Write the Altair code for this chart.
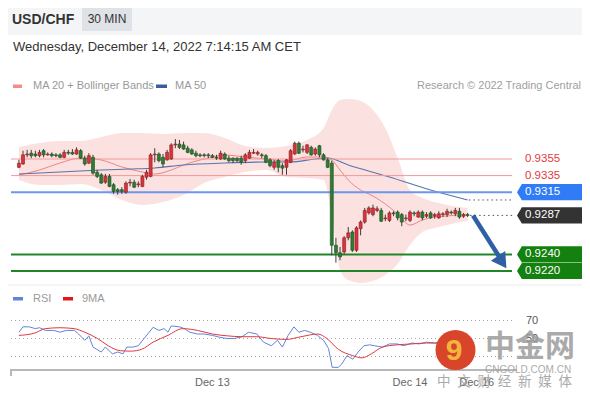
import altair as alt
import pandas as pd

FONT = "Liberation Sans"
CJK = "Noto Sans CJK SC"

# ---------------- data ----------------
candle_open = [0.9345,0.9349,0.9360,0.9362,0.9361,0.9359,0.9365,0.9360,0.9361,0.9360,
               0.9360,0.9357,0.9363,0.9363,0.9361,0.9365,0.9356,0.9350,0.9357,0.9339,
               0.9336,0.9327,0.9334,0.9324,0.9318,0.9318,0.9315,0.9326,0.9327,0.9324,
               0.9322,0.9333,0.9334,0.9360,0.9361,0.9357,0.9354,0.9355,0.9372,0.9373,
               0.9372,0.9368,0.9366,0.9362,0.9360,0.9360,0.9360,0.9359,0.9357,0.9355,
               0.9361,0.9356,0.9356,0.9356,0.9356,0.9353,0.9356,0.9362,0.9361,0.9360,
               0.9359,0.9354,0.9345,0.9353,0.9347,0.9345,0.9351,0.9361,0.9374,0.9366,
               0.9363,0.9369,0.9361,0.9371,0.9360,0.9354,0.9350,0.9251,0.9242,0.9243,
               0.9260,0.9267,0.9245,0.9271,0.9279,0.9290,0.9288,0.9293,0.9293,0.9283,
               0.9281,0.9290,0.9291,0.9288,0.9283,0.9281,0.9290,0.9285,0.9291,0.9286,
               0.9290,0.9286,0.9284,0.9288,0.9288,0.9291,0.9289,0.9292,0.9286,0.9288]
candle_close = [0.9350,0.9360,0.9361,0.9359,0.9359,0.9363,0.9360,0.9361,0.9359,0.9359,
                0.9357,0.9363,0.9362,0.9361,0.9366,0.9356,0.9349,0.9359,0.9338,0.9334,
                0.9326,0.9334,0.9322,0.9316,0.9316,0.9316,0.9326,0.9327,0.9321,0.9325,
                0.9334,0.9339,0.9360,0.9361,0.9353,0.9349,0.9363,0.9372,0.9373,0.9369,
                0.9367,0.9363,0.9361,0.9359,0.9359,0.9359,0.9359,0.9357,0.9356,0.9362,
                0.9355,0.9353,0.9353,0.9353,0.9351,0.9360,0.9363,0.9363,0.9363,0.9359,
                0.9351,0.9347,0.9351,0.9345,0.9344,0.9354,0.9365,0.9374,0.9362,0.9367,
                0.9372,0.9360,0.9367,0.9360,0.9354,0.9345,0.9251,0.9242,0.9237,0.9260,
                0.9266,0.9245,0.9272,0.9279,0.9293,0.9296,0.9296,0.9295,0.9280,0.9284,
                0.9290,0.9289,0.9284,0.9279,0.9284,0.9291,0.9289,0.9291,0.9284,0.9288,
                0.9284,0.9288,0.9289,0.9289,0.9292,0.9290,0.9293,0.9285,0.9288,0.9287]
candle_high = [0.9354,0.9365,0.9366,0.9366,0.9365,0.9366,0.9367,0.9363,0.9363,0.9362,
               0.9362,0.9366,0.9366,0.9367,0.9369,0.9367,0.9359,0.9362,0.9360,0.9342,
               0.9338,0.9337,0.9337,0.9326,0.9320,0.9321,0.9328,0.9331,0.9330,0.9328,
               0.9336,0.9342,0.9362,0.9368,0.9363,0.9361,0.9366,0.9374,0.9379,0.9378,
               0.9376,0.9371,0.9368,0.9365,0.9362,0.9362,0.9362,0.9361,0.9360,0.9365,
               0.9363,0.9359,0.9357,0.9357,0.9359,0.9362,0.9366,0.9367,0.9365,0.9362,
               0.9361,0.9356,0.9354,0.9355,0.9350,0.9355,0.9367,0.9376,0.9376,0.9371,
               0.9373,0.9371,0.9369,0.9372,0.9362,0.9356,0.9353,0.9260,0.9249,0.9262,
               0.9273,0.9269,0.9274,0.9281,0.9296,0.9298,0.9300,0.9298,0.9296,0.9288,
               0.9292,0.9292,0.9293,0.9290,0.9288,0.9293,0.9292,0.9293,0.9293,0.9291,
               0.9292,0.9290,0.9292,0.9291,0.9295,0.9293,0.9296,0.9296,0.9290,0.9290]
candle_low = [0.9344,0.9348,0.9357,0.9356,0.9357,0.9357,0.9357,0.9359,0.9357,0.9357,
              0.9356,0.9356,0.9360,0.9360,0.9360,0.9355,0.9347,0.9349,0.9336,0.9332,
              0.9325,0.9325,0.9321,0.9313,0.9312,0.9313,0.9313,0.9322,0.9320,0.9321,
              0.9321,0.9330,0.9333,0.9351,0.9351,0.9345,0.9353,0.9354,0.9368,0.9367,
              0.9366,0.9362,0.9360,0.9357,0.9357,0.9357,0.9356,0.9356,0.9354,0.9354,
              0.9354,0.9351,0.9350,0.9351,0.9348,0.9350,0.9355,0.9361,0.9359,0.9356,
              0.9350,0.9345,0.9342,0.9339,0.9336,0.9336,0.9350,0.9360,0.9361,0.9363,
              0.9361,0.9359,0.9359,0.9357,0.9353,0.9344,0.9239,0.9230,0.9233,0.9240,
              0.9257,0.9243,0.9243,0.9263,0.9277,0.9288,0.9286,0.9291,0.9279,0.9280,
              0.9279,0.9286,0.9281,0.9274,0.9280,0.9279,0.9286,0.9284,0.9281,0.9284,
              0.9283,0.9283,0.9283,0.9285,0.9285,0.9288,0.9286,0.9283,0.9284,0.9285]

band_idx = [0,5,10,15,20,25,30,35,40,45,50,55,60,65,70,74,76,78,80,83,86,89,92,95,98,101,104,107,109]
band_upper = [0.93695,0.93743,0.93767,0.93767,0.93815,0.93863,0.93863,0.93851,0.93863,0.93863,
              0.93803,0.93707,0.93683,0.93707,0.93779,0.93924,0.94141,0.94261,0.94273,0.94249,
              0.94141,0.93924,0.93562,0.93176,0.93080,0.93032,0.92996,0.92971,0.92959]
band_lower = [0.93297,0.93237,0.93237,0.93249,0.93176,0.93056,0.92996,0.93032,0.93116,0.93261,
              0.93333,0.93393,0.93417,0.93333,0.93321,0.93297,0.92875,0.92212,0.92091,0.92055,
              0.92079,0.92151,0.92284,0.92513,0.92670,0.92718,0.92754,0.92791,0.92803]

ma20_idx = [0,5,10,15,20,25,30,33,37,40,45,50,55,60,65,70,74,76,78,80,83,86,89,92,95,98,101,104,107,109]
ma20_val = [0.93357,0.93417,0.93502,0.93562,0.93538,0.93454,0.93393,0.93369,0.93417,0.93478,
            0.93550,0.93598,0.93574,0.93550,0.93526,0.93574,0.93574,0.93538,0.93417,0.93297,
            0.93176,0.93104,0.93008,0.92887,0.92754,0.92815,0.92851,0.92863,0.92875,0.92875]

ma50_idx = [0,10,20,27,33,40,50,60,66,72,75,80,90,100,109]
ma50_val = [0.93369,0.93393,0.93417,0.93429,0.93442,0.93478,0.93502,0.93514,0.93514,0.93550,
            0.93562,0.93478,0.93333,0.93176,0.93056]

levels = [0.9355, 0.9335, 0.9315, 0.9287, 0.9240, 0.9220]
level_labels = ["0.9355", "0.9335", "0.9315", "0.9287", "0.9240", "0.9220"]
level_kind = ["resistance", "resistance", "pivot", "last", "support", "support"]

arrow_idx = [110.3, 116.7]
arrow_val = [0.92868, 0.92369]
arrow_head_idx = [117.4]
arrow_head_val = [0.92308]

rsi_idx = [0,1,2.5,4,5,6.5,8.5,10,11.5,13.5,14.5,16,17,18,20,21,22.7,24,25.3,26.2,27.7,29,30.3,31.3,
           32.6,34,35.3,36.2,37,39,40.2,41.5,43.4,45,47,48.7,50.6,52.3,54.2,55.8,57.8,59.4,61.3,62.8,
           64,65.4,66.8,68,69.4,70.8,72.5,74,75.2,76.1,77.6,78.4,79.7,81.1,82.4,83.8,85.2,86.4,88.3,
           90,91.9,93.5,95.5,97.2,99,101,103,105,107,109]
rsi_val = [57,63,63,61,62,59,59,57,59,59,55,48,53,40.5,35,40.5,33,35,33,40.5,40.5,42,49.5,55,
           62.5,59,61,57,64,63,61,57,55,55,53.5,51.5,50,50,52,57,55,46,42,48,
           40.5,53.5,63,57,59,57,53.5,48,39,18,18,21.5,31,27,35,42,43,42,40.5,
           44,44,42,45,44,46,45,45.5,46,45,45]

ma9_idx = [0,3.8,6.4,10,13.4,16,19.1,21.7,24.6,27.2,29.8,32.6,36.2,39.8,43.4,47,50.6,54.2,57.8,
           61.3,64.9,68.5,72.6,74.8,77.6,81.1,83.3,85.6,88.3,91.9,95.5,99,109]
ma9_val = [53.5,56,61,62,61,57,50,42,36.5,36,38,46,53.5,61,59,55,53,52,52,
           50,49,52,55,50,38,31,28.5,33,40.5,43,44,45,45]

rsi_levels = [70, 50, 30]
rsi_level_labels = ["70", "50", ""]

date_ticks = [47, 95, 111.2]
date_labels = ["Dec 13", "Dec 14", "Dec 16"]

# ---------------- tables ----------------
cdf = pd.DataFrame({"i": list(range(len(candle_open))), "open": candle_open,
                    "close": candle_close, "high": candle_high, "low": candle_low})
cdf["fill"] = ["#d8343c" if c >= o else "#2e7d32" for o, c in zip(candle_open, candle_close)]
cdf["edge"] = ["#8e1c20" if c >= o else "#1b4d1e" for o, c in zip(candle_open, candle_close)]
bdf = pd.DataFrame({"i": band_idx, "upper": band_upper, "lower": band_lower})
m20 = pd.DataFrame({"i": ma20_idx, "v": ma20_val})
m50 = pd.DataFrame({"i": ma50_idx, "v": ma50_val})
ldf = pd.DataFrame({"level": levels, "label": level_labels, "kind": level_kind})
ldf["tcolor"] = ["#e23b3b" if k == "resistance" else "#ffffff" for k in level_kind]
box_colors = {"pivot": "#2f7cf6", "last": "#333333", "support": "#14800f", "resistance": "#ffffff"}
ldf["bcolor"] = [box_colors[k] for k in level_kind]
adf = pd.DataFrame({"i": arrow_idx, "v": arrow_val})
hdf = pd.DataFrame({"i": arrow_head_idx, "v": arrow_head_val})
dotdf = pd.DataFrame({"i": [len(candle_open) - 0.4, ma50_idx[-1] + 0.3],
                      "v": [candle_close[-1], ma50_val[-1]]})
rdf = pd.DataFrame({"i": rsi_idx, "v": rsi_val})
m9 = pd.DataFrame({"i": ma9_idx, "v": ma9_val})
rl = pd.DataFrame({"v": rsi_levels, "t": rsi_level_labels})
tdf = pd.DataFrame({"i": date_ticks, "label": date_labels})
one = pd.DataFrame({"k": [0]})

W, H = 574, 384
xs = alt.Scale(domain=[-1.432, 135.56], nice=False, zero=False)
ps = alt.Scale(domain=[0.907414, 0.953702], nice=False, zero=False)
rs = alt.Scale(domain=[-9.4, 417.2], nice=False, zero=False)


def X(f):
    return alt.X(f, type="quantitative", scale=xs, axis=None)


def P(f):
    return alt.Y(f, type="quantitative", scale=ps, axis=None)


def R(f):
    return alt.Y(f, type="quantitative", scale=rs, axis=None)


def rect(x, x2, y, y2, color):
    return alt.Chart(one).mark_rect(color=color).encode(
        x=alt.value(x), x2=alt.value(x2), y=alt.value(y), y2=alt.value(y2))


def text(s, x, y, size=11, color="#999", align="left", weight="normal", font=FONT, opacity=1.0):
    return alt.Chart(one).mark_text(text=s, align=align, baseline="middle", fontSize=size,
                                    color=color, fontWeight=weight, font=font,
                                    opacity=opacity).encode(x=alt.value(x), y=alt.value(y))


# ---------------- header ----------------
header = [
    rect(0, W, 0, 27, "#f4f5f6"),
    rect(74, 124, 0, 23, "#dfe2e6"),
    text("USD/CHF", 4, 12, 14, "#333333", weight="bold"),
    text("30 MIN", 99, 11, 12, "#333333", align="center"),
    text("Wednesday, December 14, 2022 7:14:15 AM CET", 5, 39, 13, "#333333"),
    rect(5, 14, 76.5, 80, "#f38d8d"),
    text("MA 20 + Bollinger Bands", 25, 78, 11, "#999999"),
    rect(148, 159, 76.5, 80, "#3c5c9c"),
    text("MA 50", 167, 78, 11, "#999999"),
    text("Research \u00a9 2022 Trading Central", 573, 78, 11, "#a0a0a0", align="right"),
    rect(0, W, 276.5, 277.5, "#ececec"),
]

# ---------------- price panel ----------------
band = alt.Chart(bdf).mark_area(color="#fcdcdc", opacity=0.85, interpolate="monotone").encode(
    x=X("i"), y=P("upper"), y2=alt.Y2("lower"))
ma20 = alt.Chart(m20).mark_line(color="#f08484", strokeWidth=1, interpolate="monotone").encode(
    x=X("i"), y=P("v"))
ma50 = alt.Chart(m50).mark_line(color="#5a74a8", strokeWidth=1.1, interpolate="monotone").encode(
    x=X("i"), y=P("v"))

res_lines = alt.Chart(ldf).transform_filter("datum.kind == 'resistance'").mark_rule(
    color="#f29a9a", strokeWidth=1).encode(y=P("level"), x=alt.value(3), x2=alt.value(504))
piv_line = alt.Chart(ldf).transform_filter("datum.kind == 'pivot'").mark_rule(
    color="#6b97ef", strokeWidth=2).encode(y=P("level"), x=alt.value(3), x2=alt.value(504))
sup_lines = alt.Chart(ldf).transform_filter("datum.kind == 'support'").mark_rule(
    color="#21862a", strokeWidth=2).encode(y=P("level"), x=alt.value(3), x2=alt.value(504))

dots = alt.Chart(dotdf).mark_rule(color="#555555", strokeWidth=1, strokeDash=[1.5, 3]).encode(
    x=X("i"), x2=alt.value(506), y=P("v"))

wicks = alt.Chart(cdf).mark_rule(color="#3d3d3d", strokeWidth=1).encode(
    x=X("i"), y=P("low"), y2=alt.Y2("high"))
bodies = alt.Chart(cdf).mark_bar(size=3, strokeWidth=0.6).encode(
    x=X("i"), y=P("open"), y2=alt.Y2("close"),
    color=alt.Color("fill:N", scale=None),
    stroke=alt.Stroke("edge:N", scale=None))

arrow = alt.Chart(adf).mark_line(color="#2f5fa5", strokeWidth=4.5).encode(x=X("i"), y=P("v"))
arrow_head = alt.Chart(hdf).mark_point(shape="triangle-right", filled=True, size=300, angle=56,
                                       color="#2f5fa5", opacity=1).encode(x=X("i"), y=P("v"))

BOX = "M -1 0 L -0.86 -0.235 L 1 -0.235 L 1 0.235 L -0.86 0.235 Z"
boxes = alt.Chart(ldf).transform_filter("datum.kind != 'resistance'").mark_point(
    shape=BOX, filled=True, size=4761, opacity=1, strokeWidth=0).encode(
    x=alt.value(543.5), y=P("level"), color=alt.Color("bcolor:N", scale=None))
level_text = alt.Chart(ldf).mark_text(align="left", baseline="middle", fontSize=11.5, font=FONT).encode(
    x=alt.value(517), y=P("level"), text="label:N", color=alt.Color("tcolor:N", scale=None))

# ---------------- RSI panel ----------------
rsi_legend = [
    rect(5, 15, 289, 292.5, "#6383d9"),
    text("RSI", 25, 291, 11, "#999999"),
    rect(55, 65, 289, 292.5, "#e8141a"),
    text("9MA", 74, 291, 11, "#999999"),
]
rsi_grid = alt.Chart(rl).mark_rule(color="#a8a8a8", strokeWidth=1, strokeDash=[1, 3]).encode(
    y=R("v"), x=alt.value(3), x2=alt.value(507))
rsi_lab = alt.Chart(rl).mark_text(align="left", baseline="middle", fontSize=11, font=FONT,
                                   color="#555555").encode(y=R("v"), x=alt.value(518), text="t:N")
rsi_line = alt.Chart(rdf).mark_line(color="#6383d9", strokeWidth=1).encode(x=X("i"), y=R("v"))
ma9_line = alt.Chart(m9).mark_line(color="#e0393e", strokeWidth=1, interpolate="monotone").encode(
    x=X("i"), y=R("v"))

axis = [
    rect(3, 509, 361, 363, "#b8b8b8"),
    rect(2, 4, 361, 368, "#b8b8b8"),
]
axis_labels = alt.Chart(tdf).mark_text(fontSize=11, font=FONT, color="#666666", baseline="middle").encode(
    x=X("i"), y=alt.value(375), text="label:N")

# ---------------- watermark ----------------
watermark = [
    alt.Chart(one).mark_circle(size=1600, color="#d8452b", opacity=1).encode(
        x=alt.value(447.5), y=alt.value(342)),
    text("9", 446, 343, 30, "#f3b43c", align="center", weight="bold"),
    text("\u4e2d\u91d1\u7f51", 477, 339, 30, "#9c9c9c", weight="bold", font=CJK, opacity=0.85),
    text("CNGOLD.COM.CN", 477, 361.5, 10, "#9c9c9c", opacity=0.85),
    text("\u4e2d\u2002\u6587\u2002\u8d22\u2002\u7ecf\u2002\u65b0\u2002\u5a92\u2002\u4f53",
         429, 374, 13.5, "#9c9c9c", font=CJK, opacity=0.85),
]

chart = alt.layer(
    *header,
    band, ma20, ma50, res_lines, piv_line, sup_lines, dots, wicks, bodies,
    arrow, arrow_head, boxes, level_text,
    *rsi_legend, rsi_grid, rsi_lab, rsi_line, ma9_line,
    *axis, axis_labels,
    *watermark,
).resolve_scale(y="independent").properties(
    width=W, height=H, autosize=alt.AutoSizeParams(type="none"), padding=0
).configure_view(stroke=None)

chart.save("out.html", embed_options={"renderer": "svg", "actions": False})
